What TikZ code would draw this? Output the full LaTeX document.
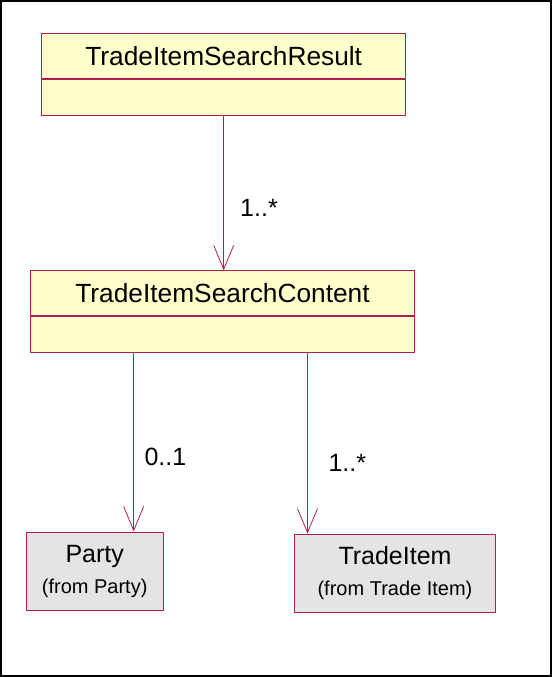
\documentclass[tikz,border=0pt]{standalone}
\usepackage{fontspec}
\setmainfont{Liberation Sans}
\usepackage{tikz}
\usetikzlibrary{calc,arrows.meta}

\definecolor{umlred}{RGB}{176,30,80}
\definecolor{umlyellow}{RGB}{255,255,204}
\definecolor{umlgray}{RGB}{228,228,228}

\begin{document}
\begin{tikzpicture}[x=1pt,y=-1pt,
    classpart/.style={draw=umlred, fill=umlyellow, line width=0.9pt, inner sep=0pt, font=\fontsize{26.3}{30}\selectfont},
    refbox/.style={draw=umlred, fill=umlgray, line width=0.9pt, inner sep=0pt, align=center, font=\fontsize{25}{31}\selectfont},
    assoc/.style={draw=umlred, line width=0.8pt, -{Straight Barb[length=24pt,width=20pt]}},
    mult/.style={anchor=base west, inner sep=0pt, font=\fontsize{25}{30}\selectfont}]
    % frame
    \useasboundingbox (0,0) rectangle (552,677);
    \draw[line width=2pt] (1,1.5) rectangle (551,676);
    % TradeItemSearchResult
    \node[classpart, minimum width=364pt, minimum height=44.6pt] (resulttitle) at (223.7,56) {TradeItemSearchResult};
    \node[classpart, minimum width=364pt, minimum height=36.7pt, anchor=north] (resultbody) at (resulttitle.south) {};
    % TradeItemSearchContent
    \node[classpart, minimum width=383.6pt, minimum height=44.3pt] (contenttitle) at (222.5,292.9) {TradeItemSearchContent};
    \node[classpart, minimum width=383.6pt, minimum height=36.7pt, anchor=north] (contentbody) at (contenttitle.south) {};
    % referenced classes
    \node[refbox, minimum width=137.3pt, minimum height=78.7pt] (party) at (94.7,571.3) {Party\\{\fontsize{20}{31}\selectfont (from Party)}};
    \node[refbox, minimum width=200.6pt, minimum height=78.3pt] (tradeitem) at (395,573.2) {TradeItem\\{\fontsize{20}{31}\selectfont (from Trade Item)}};
    % associations
    \draw[assoc] (resultbody.south) -- (resultbody.south |- contenttitle.north);
    \node[mult] (resultmult) at (240,216.7) {1..*};
    \coordinate (partyfoot) at ($(contentbody.south west)!0.269!(contentbody.south east)$);
    \coordinate (itemfoot) at ($(contentbody.south west)!0.721!(contentbody.south east)$);
    \draw[assoc] (partyfoot) -- (partyfoot |- party.north);
    \node[mult] (partymult) at (144.3,465) {0..1};
    \draw[assoc] (itemfoot) -- (itemfoot |- tradeitem.north);
    \node[mult] (itemmult) at (328.3,471) {1..*};
\end{tikzpicture}
\end{document}
